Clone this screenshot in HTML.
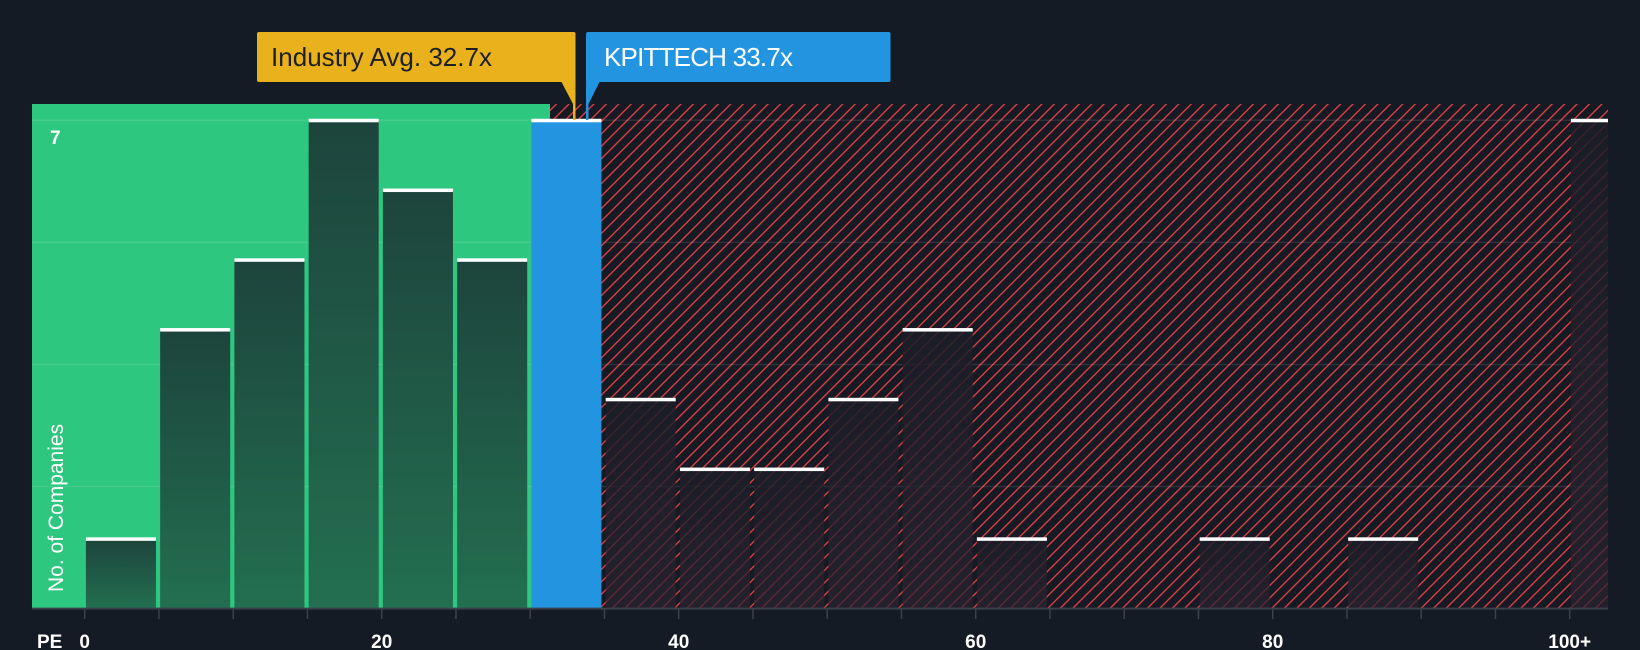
<!DOCTYPE html>
<html><head><meta charset="utf-8"><style>
html,body{margin:0;padding:0;background:#151b24;}
svg{display:block;font-family:"Liberation Sans",sans-serif;}
</style></head><body>
<svg id="chart" width="1640" height="650" viewBox="0 0 1640 650" xmlns="http://www.w3.org/2000/svg">
<defs>
<pattern id="hatch" patternUnits="userSpaceOnUse" width="8.8" height="8.8" patternTransform="rotate(45)">
<rect width="8.8" height="8.8" fill="#161a23"/>
<line x1="0" y1="0" x2="0" y2="8.8" stroke="#e8404a" stroke-width="2.6"/>
</pattern>
<linearGradient id="gbar" x1="0" y1="0" x2="0" y2="1"><stop offset="0" stop-color="#1d443c"/><stop offset="1" stop-color="#236f51"/></linearGradient>
<linearGradient id="rbar" x1="0" y1="0" x2="0" y2="1"><stop offset="0" stop-color="#1b1d27" stop-opacity="0.85"/><stop offset="1" stop-color="#2a2330" stop-opacity="0.72"/></linearGradient>
</defs>
<rect x="0" y="0" width="1640" height="650" fill="#151b24"/>
<rect x="32" y="104" width="518" height="504" fill="#2ec77f"/>
<rect x="550" y="104" width="1058" height="504" fill="url(#hatch)"/>
<g id="grid"></g>
<g id="bars"></g>
<line x1="32" y1="608.6" x2="1608" y2="608.6" stroke="#3b414b" stroke-width="2"/>
<g id="ticks"></g>
<text x="37" y="648" fill="#fff" font-size="19" font-weight="bold">PE</text>
<text x="50" y="144" fill="#fff" font-size="19" font-weight="bold">7</text>
<text transform="translate(63,592) rotate(-90)" fill="#fff" font-size="21">No. of Companies</text>
<g>
<rect x="257" y="32" width="318.5" height="50" rx="2" fill="#e9b11b"/>
<polygon points="561,81 575.5,81 575.5,120 573,120 573,104" fill="#e9b11b"/>
<text x="271" y="66" fill="#1c1f24" font-size="26" textLength="221">Industry Avg. 32.7x</text>
</g>
<g>
<rect x="586" y="32" width="304.5" height="50" rx="2" fill="#2394e0"/>
<polygon points="586,81 600,81 588.5,104 588.5,120 586,120" fill="#2394e0"/>
<text x="604" y="66" fill="#fff" font-size="26" textLength="189">KPITTECH 33.7x</text>
</g>
</svg>
<script>
const binStarts = [0,5,10,15,20,25,30,35,40,45,50,55,60,65,70,75,80,85,90,95,100];
const counts = [1,4,5,7,6,5,7,3,2,2,3,4,1,0,0,1,0,1,0,0,7];
const highlightBin = 30;
const fairLimit = 32.7;
const gridValues = [1.75,3.5,5.25,7];
const tickValues = [0,5,10,15,20,25,30,35,40,45,50,55,60,65,70,75,80,85,90,95,100];
const tickLabels = {0:"0",20:"20",40:"40",60:"60",80:"80",100:"100+"};

const NS="http://www.w3.org/2000/svg";
const x=v=>84.7+v*14.85;
const y=c=>608.6-c*69.76;
function mk(tag,attrs,parent){const e=document.createElementNS(NS,tag);for(const k in attrs)e.setAttribute(k,attrs[k]);parent.appendChild(e);return e;}
const grid=document.getElementById('grid');
gridValues.forEach(g=>{
  const l=mk('line',{x1:32,x2:1608,y1:y(g),y2:y(g),stroke:'rgba(255,255,255,0.1)','stroke-width':1.5},grid);
  
  
});
const bars=document.getElementById('bars');
binStarts.forEach((b,i)=>{
  const c=counts[i]; if(c<=0) return;
  const last=i===binStarts.length-1;
  const x0=x(b)+1.2, x1=last?1608:x(b+5)-3;
  const isHi=b===highlightBin;
  const fill=isHi?'#2394e0':(b+5<=fairLimit?'url(#gbar)':'url(#rbar)');
  const r=mk('rect',{x:x0,y:y(c),width:x1-x0,height:608.6-y(c),fill:fill},bars);
  
  
  const cap=mk('rect',{x:x0,y:y(c)-1.5,width:x1-x0,height:3.5,fill:'#fff'},bars);
  
  
});
const ticks=document.getElementById('ticks');
tickValues.forEach(t=>{
  const l=mk('line',{x1:x(t),x2:x(t),y1:609,y2:619,stroke:'#3b414b','stroke-width':1.5},ticks);
  
  
  if(tickLabels[t]!==undefined){
    const tx=mk('text',{x:x(t),y:648,fill:'#fff','font-size':19,'font-weight':'bold','text-anchor':'middle'},ticks);
    tx.textContent=tickLabels[t];
    
    
  }
});
</script>
</body></html>
